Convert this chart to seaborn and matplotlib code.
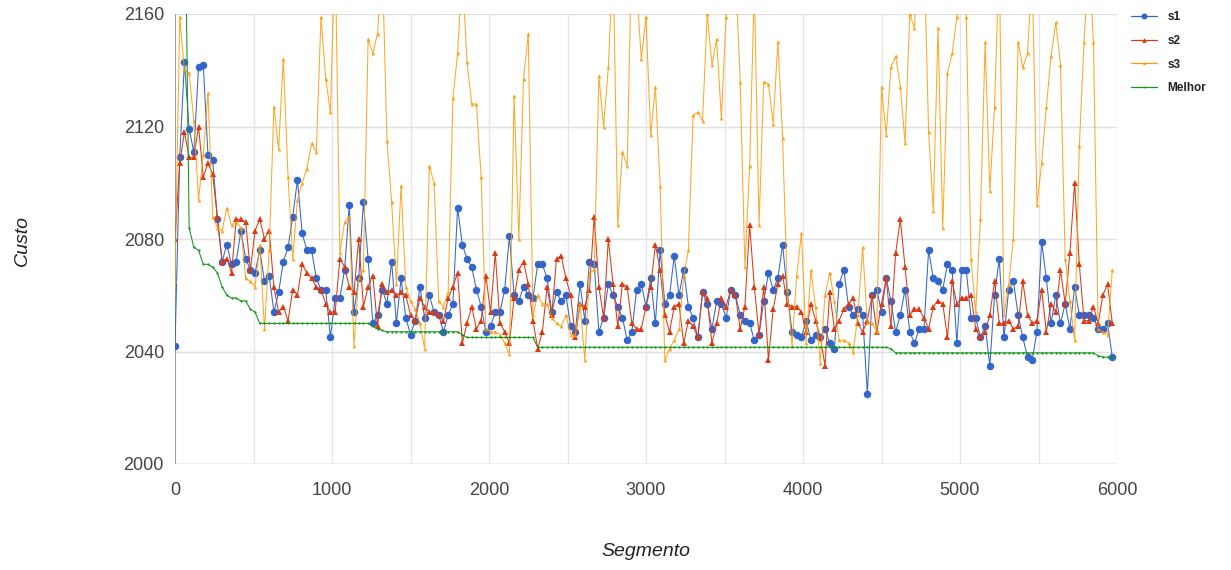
import matplotlib
matplotlib.use("Agg")
import matplotlib.pyplot as plt
import seaborn as sns
import pandas as pd
from matplotlib.lines import Line2D

# ---------------- data ----------------
segmentos = list(range(0, 6000, 30))

s1 = [2042, 2109, 2143, 2119, 2111, 2141, 2142, 2110, 2108, 2087,
      2072, 2078, 2071, 2072, 2083, 2073, 2069, 2068, 2076, 2065,
      2067, 2054, 2061, 2072, 2077, 2088, 2101, 2082, 2076, 2076,
      2066, 2062, 2062, 2045, 2059, 2059, 2069, 2092, 2054, 2066,
      2093, 2073, 2050, 2053, 2062, 2057, 2072, 2050, 2066, 2052,
      2046, 2051, 2063, 2052, 2060, 2054, 2053, 2047, 2053, 2057,
      2091, 2078, 2073, 2070, 2062, 2056, 2047, 2049, 2054, 2054,
      2062, 2081, 2060, 2058, 2063, 2060, 2059, 2071, 2071, 2066,
      2054, 2061, 2058, 2060, 2049, 2047, 2064, 2051, 2072, 2071,
      2047, 2052, 2064, 2060, 2056, 2052, 2044, 2047, 2062, 2064,
      2056, 2066, 2050, 2076, 2057, 2060, 2074, 2060, 2069, 2056,
      2052, 2045, 2061, 2057, 2048, 2058, 2057, 2052, 2062, 2060,
      2053, 2051, 2050, 2044, 2046, 2058, 2068, 2062, 2066, 2078,
      2061, 2047, 2046, 2045, 2051, 2044, 2046, 2045, 2048, 2043,
      2041, 2064, 2069, 2056, 2053, 2055, 2053, 2025, 2060, 2062,
      2054, 2066, 2058, 2047, 2053, 2062, 2047, 2043, 2048, 2048,
      2076, 2066, 2065, 2062, 2071, 2069, 2043, 2069, 2069, 2052,
      2052, 2045, 2049, 2035, 2060, 2073, 2045, 2062, 2065, 2053,
      2045, 2038, 2037, 2047, 2079, 2066, 2050, 2060, 2050, 2057,
      2048, 2063, 2053, 2053, 2053, 2052, 2048, 2048, 2050, 2038]

s2 = [2080, 2107, 2118, 2109, 2109, 2120, 2102, 2107, 2103, 2088,
      2072, 2073, 2068, 2087, 2087, 2086, 2069, 2083, 2087, 2080,
      2083, 2063, 2054, 2056, 2051, 2062, 2060, 2071, 2068, 2066,
      2063, 2062, 2057, 2054, 2054, 2073, 2070, 2063, 2061, 2080,
      2056, 2063, 2067, 2049, 2064, 2061, 2062, 2060, 2061, 2060,
      2053, 2051, 2059, 2056, 2054, 2054, 2053, 2051, 2059, 2063,
      2068, 2043, 2050, 2056, 2048, 2051, 2067, 2054, 2075, 2050,
      2047, 2043, 2059, 2069, 2072, 2064, 2051, 2041, 2047, 2063,
      2053, 2073, 2074, 2066, 2060, 2045, 2057, 2056, 2062, 2088,
      2063, 2052, 2080, 2064, 2049, 2064, 2063, 2050, 2048, 2048,
      2056, 2063, 2078, 2069, 2053, 2047, 2056, 2057, 2043, 2051,
      2049, 2045, 2061, 2059, 2043, 2050, 2059, 2056, 2062, 2060,
      2048, 2056, 2085, 2063, 2046, 2063, 2037, 2055, 2064, 2067,
      2057, 2056, 2056, 2054, 2047, 2057, 2051, 2045, 2035, 2061,
      2048, 2051, 2055, 2057, 2059, 2050, 2047, 2051, 2060, 2047,
      2057, 2066, 2049, 2075, 2087, 2070, 2053, 2055, 2055, 2052,
      2048, 2056, 2058, 2057, 2045, 2065, 2057, 2059, 2059, 2060,
      2048, 2045, 2047, 2053, 2065, 2050, 2050, 2051, 2048, 2049,
      2065, 2053, 2050, 2051, 2062, 2047, 2057, 2054, 2069, 2057,
      2075, 2100, 2071, 2051, 2051, 2056, 2050, 2060, 2064, 2050]

s3 = [2065, 2159, 2140, 2139, 2122, 2094, 2110, 2132, 2088, 2084,
      2083, 2091, 2085, 2086, 2084, 2066, 2065, 2063, 2078, 2048,
      2076, 2127, 2112, 2144, 2102, 2073, 2094, 2100, 2105, 2114,
      2111, 2159, 2137, 2125, 2185, 2075, 2086, 2088, 2042, 2066,
      2069, 2151, 2146, 2153, 2180, 2115, 2093, 2064, 2099, 2063,
      2058, 2055, 2050, 2041, 2106, 2100, 2058, 2056, 2061, 2130,
      2146, 2175, 2143, 2128, 2128, 2102, 2048, 2047, 2047, 2046,
      2043, 2039, 2131, 2080, 2137, 2153, 2053, 2060, 2057, 2057,
      2052, 2050, 2049, 2053, 2046, 2046, 2057, 2037, 2068, 2069,
      2138, 2120, 2141, 2180, 2085, 2111, 2106, 2185, 2170, 2144,
      2159, 2117, 2134, 2099, 2037, 2041, 2044, 2048, 2067, 2076,
      2124, 2125, 2122, 2160, 2142, 2151, 2123, 2159, 2190, 2175,
      2136, 2070, 2106, 2170, 2085, 2136, 2135, 2121, 2150, 2116,
      2062, 2042, 2067, 2082, 2043, 2069, 2056, 2036, 2060, 2068,
      2058, 2044, 2044, 2043, 2040, 2053, 2077, 2050, 2050, 2047,
      2134, 2117, 2141, 2145, 2134, 2114, 2160, 2155, 2190, 2185,
      2118, 2090, 2155, 2084, 2139, 2146, 2159, 2175, 2159, 2073,
      2054, 2087, 2150, 2097, 2127, 2180, 2053, 2064, 2080, 2150,
      2141, 2146, 2175, 2092, 2107, 2127, 2145, 2157, 2142, 2073,
      2058, 2044, 2113, 2150, 2180, 2150, 2048, 2047, 2046, 2069]

melhor = [2300, 2260, 2220, 2084, 2077, 2076, 2071, 2071, 2070, 2068,
          2063, 2060, 2059, 2059, 2058, 2058, 2055, 2054, 2050, 2050,
          2050, 2050, 2050, 2050, 2050, 2050, 2050, 2050, 2050, 2050,
          2050, 2050, 2050, 2050, 2050, 2050, 2050, 2050, 2050, 2050,
          2050, 2050, 2049, 2048, 2047.5, 2047, 2047, 2047, 2047, 2047,
          2047, 2047, 2047, 2047, 2047, 2047, 2047, 2047, 2047, 2047,
          2047, 2046, 2045, 2045, 2045, 2045, 2045, 2045, 2045, 2045,
          2045, 2045, 2045, 2045, 2045, 2045, 2045, 2041.5, 2041.5, 2041.5,
          2041.5, 2041.5, 2041.5, 2041.5, 2041.5, 2041.5, 2041.5, 2041.5, 2041.5, 2041.5,
          2041.5, 2041.5, 2041.5, 2041.5, 2041.5, 2041.5, 2041.5, 2041.5, 2041.5, 2041.5,
          2041.5, 2041.5, 2041.5, 2041.5, 2041.5, 2041.5, 2041.5, 2041.5, 2041.5, 2041.5,
          2041.5, 2041.5, 2041.5, 2041.5, 2041.5, 2041.5, 2041.5, 2041.5, 2041.5, 2041.5,
          2041.5, 2041.5, 2041.5, 2041.5, 2041.5, 2041.5, 2041.5, 2041.5, 2041.5, 2041.5,
          2041.5, 2041.5, 2041.5, 2041.5, 2041.5, 2041.5, 2041.5, 2041.5, 2041.5, 2041.5,
          2041.5, 2041.5, 2041.5, 2041.5, 2041.5, 2041.5, 2041.5, 2041.5, 2041.5, 2041.5,
          2041.5, 2041.5, 2041, 2039.5, 2039.5, 2039.5, 2039.5, 2039.5, 2039.5, 2039.5,
          2039.5, 2039.5, 2039.5, 2039.5, 2039.5, 2039.5, 2039.5, 2039.5, 2039.5, 2039.5,
          2039.5, 2039.5, 2039.5, 2039.5, 2039.5, 2039.5, 2039.5, 2039.5, 2039.5, 2039.5,
          2039.5, 2039.5, 2039.5, 2039.5, 2039.5, 2039.5, 2039.5, 2039.5, 2039.5, 2039.5,
          2039.5, 2039.5, 2039.5, 2039.5, 2039.5, 2039.5, 2038.5, 2038, 2038, 2038]

series_names = ["s1", "s2", "s3", "Melhor"]
x_ticks = [0, 1000, 2000, 3000, 4000, 5000, 6000]
x_grid = [0, 500, 1000, 1500, 2000, 2500, 3000, 3500, 4000, 4500, 5000, 5500, 6000]
y_ticks = [2000, 2040, 2080, 2120, 2160]

# ---------------- style ----------------
colors = {"s1": "#3366CC", "s2": "#DC3912", "s3": "#FF9900", "Melhor": "#109618"}
markers = {"s1": "o", "s2": "^", "s3": "^", "Melhor": "o"}
msizes = {"s1": 5.4, "s2": 4.2, "s3": 2.8, "Melhor": 1.6}
lwidths = {"s1": 0.75, "s2": 0.75, "s3": 0.75, "Melhor": 0.75}
alphas = {"s1": 1.0, "s2": 1.0, "s3": 0.85, "Melhor": 1.0}

sns.set_theme(style="white")
plt.rcParams['font.family'] = ['Liberation Sans', 'DejaVu Sans']

W, H = 1231, 570
fig = plt.figure(figsize=(W / 100, H / 100), dpi=100)
fig.patch.set_facecolor("white")
ax = fig.add_axes([175 / W, 1 - 464 / H, (1117 - 175) / W, (464 - 14) / H])

df = pd.DataFrame({"Segmento": segmentos, "s1": s1, "s2": s2, "s3": s3, "Melhor": melhor})
long = df.melt(id_vars="Segmento", var_name="serie", value_name="Custo")

for name in series_names:
    sub = long[long["serie"] == name]
    sns.lineplot(data=sub, x="Segmento", y="Custo", ax=ax, color=colors[name],
                 marker=markers[name], markersize=msizes[name], markeredgewidth=0,
                 linewidth=lwidths[name], alpha=alphas[name],
                 estimator=None, sort=False, legend=False, zorder=3)

ax.set_xlim(0, 6000)
ax.set_ylim(2000, 2160)

for gx in x_grid:
    ax.axvline(gx, color="#e6e6e6", lw=1, zorder=0)
for gy in y_ticks:
    ax.axhline(gy, color="#e0e0e0", lw=1, zorder=0)
ax.axhline(2000, color="#cfcfcf", lw=1, zorder=1)
ax.axvline(0, color="#8a8a8a", lw=1.1, zorder=2)

for sp in ax.spines.values():
    sp.set_visible(False)

ax.set_xticks(x_ticks)
ax.set_xticklabels([str(v) for v in x_ticks])
ax.set_yticks(y_ticks)
ax.set_yticklabels([str(v) for v in y_ticks])
ax.tick_params(axis="x", length=0, pad=13, labelsize=13, labelcolor="#444444")
ax.tick_params(axis="y", length=0, pad=8, labelsize=13, labelcolor="#444444")
ax.set_xlabel("")
ax.set_ylabel("")

fig.text(22 / W, 1 - 240 / H, "Custo", rotation=90, ha="center", va="center",
         fontsize=14, style="italic", color="#222222")
fig.text(646 / W, 1 - 551 / H, "Segmento", ha="center", va="center",
         fontsize=14, style="italic", color="#222222")

handles = [Line2D([0], [0], color=colors[n], marker=markers[n],
                  markersize=msizes[n] * 0.8, markeredgewidth=0, lw=0.9)
           for n in series_names]
leg = fig.legend(handles, series_names, loc="upper left",
                 bbox_to_anchor=(1131 / W, 1 - 11 / H), bbox_transform=fig.transFigure,
                 frameon=False, borderpad=0, borderaxespad=0,
                 handlelength=2.2, handletextpad=0.9, labelspacing=1.0,
                 prop={"size": 8.5, "weight": "bold"})
for t in leg.get_texts():
    t.set_color("#222222")

fig.savefig("out.png", dpi=100, facecolor="white")
